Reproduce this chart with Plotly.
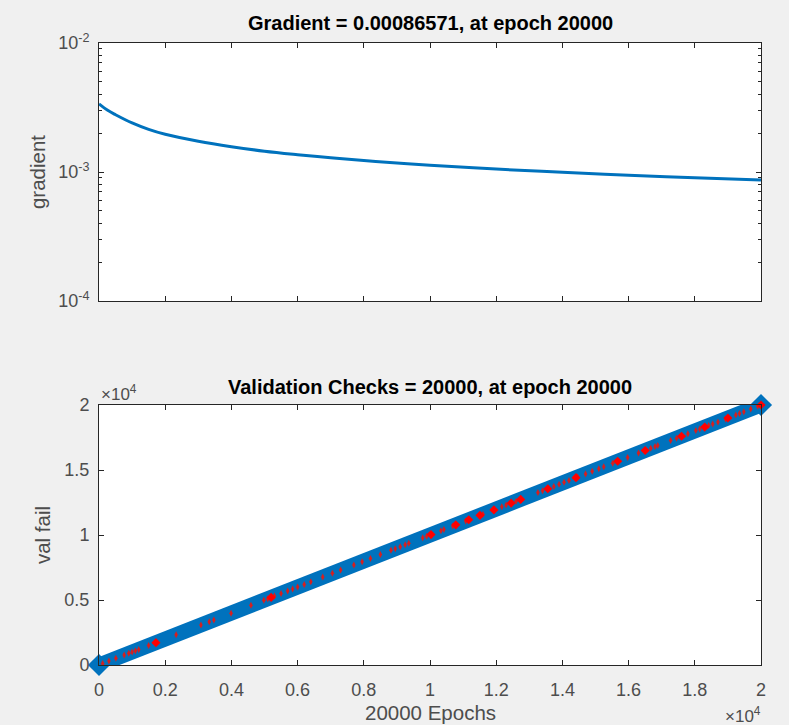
import plotly.graph_objects as go

# ---- data ----
grad_epochs = [0, 250, 500, 1000, 1500, 2000, 3000, 4000, 5000, 6000, 7000, 8000,
               9000, 10000, 12000, 14000, 16000, 18000, 20000]
grad_values = [3.37e-3, 3.02e-3, 2.78e-3, 2.40e-3, 2.14e-3, 1.96e-3, 1.73e-3, 1.57e-3,
               1.45e-3, 1.362e-3, 1.288e-3, 1.227e-3, 1.174e-3, 1.129e-3, 1.054e-3,
               0.994e-3, 0.944e-3, 0.903e-3, 0.86571e-3]

vf_epochs = [0, 20000]
vf_values = [0, 20000]

red_small_epochs = [110, 300, 510, 760, 900, 1000, 1100, 1200, 1500, 2330, 3080, 3330, 3470,
                    3990, 4590, 4980, 5100, 5300, 5500, 5700, 5850, 6000, 6200, 6400, 6760,
                    7050, 7300, 7700, 7950, 8200, 8500, 8820, 8950, 9100, 9250, 9360, 9780,
                    9900, 10330, 10420, 10690, 11080, 11600, 12170, 12300, 12600, 13260,
                    13400, 13740, 13900, 14050, 14200, 14460, 14700, 14900, 15100, 15250,
                    15520, 15970, 16300, 16670, 16800, 16880, 17270, 17450, 17790, 18030,
                    18150, 18420, 18540, 18700, 18930, 19240, 19350, 19480, 19690, 19900]
red_small_values = list(red_small_epochs)  # marks lie on the diagonal
red_big_epochs = [1720, 5200, 10030, 10780, 11170, 11510, 11930, 12450, 12740, 13560, 14410,
                  15670, 16500, 17600, 18300, 19000, 20000]
red_big_values = list(red_big_epochs)

x_tick_vals = [0, 2000, 4000, 6000, 8000, 10000, 12000, 14000, 16000, 18000, 20000]
x_tick_text = ["0", "0.2", "0.4", "0.6", "0.8", "1", "1.2", "1.4", "1.6", "1.8", "2"]
y2_tick_vals = [0, 5000, 10000, 15000, 20000]
y2_tick_text = ["0", "0.5", "1", "1.5", "2"]
y1_tick_vals = [1e-4, 1e-3, 1e-2]
y1_tick_text = ["10<sup>-4</sup>", "10<sup>-3</sup>", "10<sup>-2</sup>"]

title_top = "Gradient = 0.00086571, at epoch 20000"
title_bot = "Validation Checks = 20000, at epoch 20000"
ylabel_top = "gradient"
ylabel_bot = "val fail"
xlabel_bot = "20000 Epochs"

# ---- figure ----
W, H = 789, 725
BLUE = "#0072BD"
AX = "#262626"
TICKC = "#4d4d4d"
FONT = "Liberation Sans, Arial, sans-serif"

def px_x(p):
    return p / W

def px_y(p):
    return 1 - p / H

fig = go.Figure()

fig.add_trace(go.Scatter(x=grad_epochs, y=grad_values, mode="lines",
                         line=dict(color=BLUE, width=3, shape="spline", smoothing=1.0),
                         xaxis="x", yaxis="y", showlegend=False))

fig.add_trace(go.Scatter(x=vf_epochs, y=vf_values, mode="lines",
                         line=dict(color=BLUE, width=15),
                         xaxis="x2", yaxis="y2", showlegend=False))
fig.add_trace(go.Scatter(x=vf_epochs, y=vf_values, mode="markers",
                         marker=dict(symbol="diamond", size=17, color=BLUE,
                                     line=dict(width=0)),
                         cliponaxis=False, xaxis="x2", yaxis="y2", showlegend=False))
fig.add_trace(go.Scatter(x=red_small_epochs, y=red_small_values, mode="markers",
                         marker=dict(symbol="diamond-tall", size=5, color="#d42020",
                                     line=dict(width=0)),
                         xaxis="x2", yaxis="y2", showlegend=False))
fig.add_trace(go.Scatter(x=red_big_epochs, y=red_big_values, mode="markers",
                         marker=dict(symbol="diamond", size=7, color="#ff0000",
                                     line=dict(width=0)),
                         cliponaxis=False, xaxis="x2", yaxis="y2", showlegend=False))

common_axis = dict(showline=True, linecolor=AX, linewidth=1, mirror="ticks",
                   ticks="inside", ticklen=5, tickcolor=AX, showgrid=False, zeroline=False,
                   automargin=False,
                   tickfont=dict(family=FONT, size=18, color=TICKC))
label_font = dict(family=FONT, size=20.5, color=TICKC)

xd = [px_x(99), px_x(761)]
fig.update_layout(
    width=W, height=H,
    margin=dict(l=0, r=0, t=0, b=0),
    paper_bgcolor="#f0f0f0", plot_bgcolor="white",
    xaxis=dict(domain=xd, range=[0, 20000], tickvals=x_tick_vals, showticklabels=False,
               anchor="y", **common_axis),
    yaxis=dict(domain=[px_y(301), px_y(43)], type="log", range=[-4, -2],
               tickvals=y1_tick_vals, ticktext=y1_tick_text, anchor="x",
               ticklabelstandoff=5,
               title=dict(text=ylabel_top, font=label_font, standoff=6),
               minor=dict(ticks="inside", ticklen=3, tickcolor=AX,
                          tickvals=[k * 10 ** e for e in (-4, -3) for k in range(2, 10)]),
               **common_axis),
    xaxis2=dict(domain=xd, range=[0, 20000], tickvals=x_tick_vals, ticktext=x_tick_text,
                anchor="y2", ticklabelstandoff=8, **common_axis),
    yaxis2=dict(domain=[px_y(665), px_y(405)], range=[0, 20000], tickvals=y2_tick_vals,
                ticktext=y2_tick_text, anchor="x2", ticklabelstandoff=5,
                title=dict(text=ylabel_bot, font=label_font, standoff=8),
                **common_axis),
)

def note(text, x, y, size, color=TICKC, xanchor="center"):
    return dict(text=text, x=px_x(x), y=px_y(y), xref="paper", yref="paper",
                xanchor=xanchor, yanchor="middle", showarrow=False,
                font=dict(family=FONT, size=size, color=color))

ann = [
    note("<b>" + title_top + "</b>", 430, 23, 20, color="black"),
    note("<b>" + title_bot + "</b>", 430, 387, 20, color="black"),
    note(xlabel_bot, 430, 712, 20.5),
    note("\u00d710<sup>4</sup>", 99, 393, 17, xanchor="left"),
    note("\u00d710<sup>4</sup>", 763, 715, 17, xanchor="right"),
]
fig.update_layout(annotations=ann)

fig.write_html("out.html")
